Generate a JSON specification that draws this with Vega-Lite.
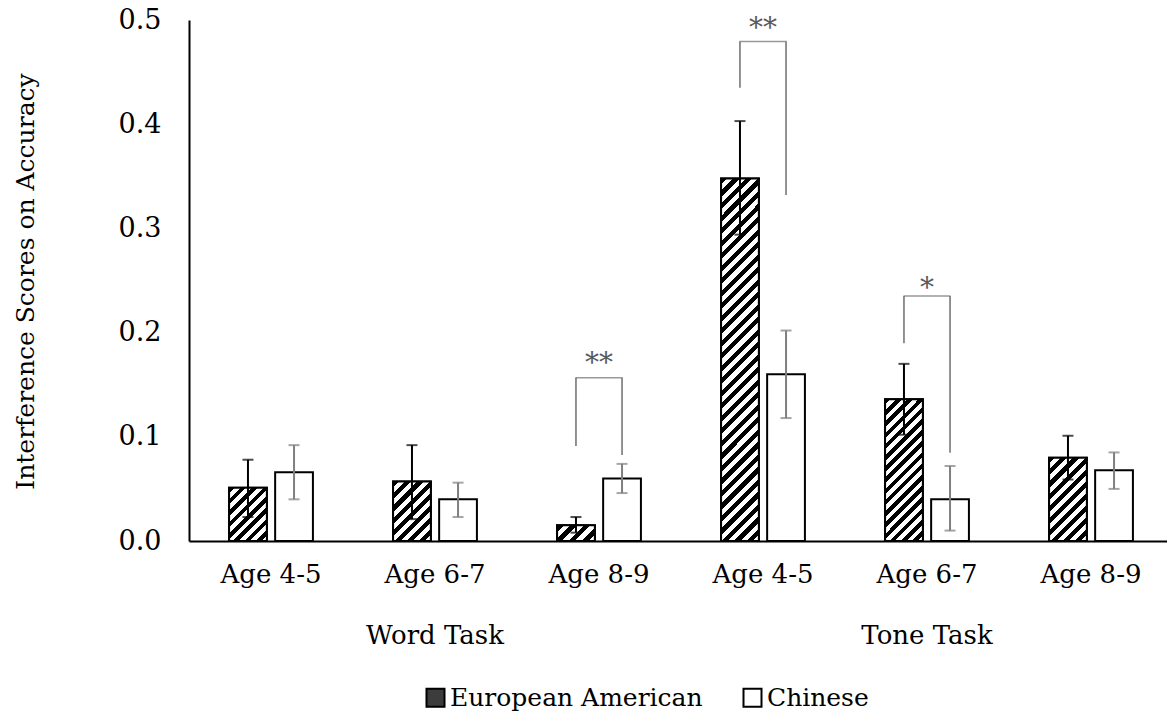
{
"$schema": "https://vega.github.io/schema/vega-lite/v6.json",
"width": 978, "height": 521,
"autosize": {"type": "none"},
"padding": {"left": 189, "top": 20, "right": 0, "bottom": 173},
"background": "white",
"config": {"view": {"stroke": null}, "font": "DejaVu Serif"},
"datasets": {
 "bars": [
  {"group":"Word Task|Age 4-5","country":"European American","value":0.051,"lo":0.023,"hi":0.078},
  {"group":"Word Task|Age 4-5","country":"Chinese","value":0.066,"lo":0.040,"hi":0.092},
  {"group":"Word Task|Age 6-7","country":"European American","value":0.057,"lo":0.021,"hi":0.092},
  {"group":"Word Task|Age 6-7","country":"Chinese","value":0.040,"lo":0.023,"hi":0.056},
  {"group":"Word Task|Age 8-9","country":"European American","value":0.015,"lo":0.008,"hi":0.023},
  {"group":"Word Task|Age 8-9","country":"Chinese","value":0.060,"lo":0.046,"hi":0.074},
  {"group":"Tone Task|Age 4-5","country":"European American","value":0.348,"lo":0.294,"hi":0.403},
  {"group":"Tone Task|Age 4-5","country":"Chinese","value":0.160,"lo":0.118,"hi":0.202},
  {"group":"Tone Task|Age 6-7","country":"European American","value":0.136,"lo":0.102,"hi":0.170},
  {"group":"Tone Task|Age 6-7","country":"Chinese","value":0.040,"lo":0.010,"hi":0.072},
  {"group":"Tone Task|Age 8-9","country":"European American","value":0.080,"lo":0.059,"hi":0.101},
  {"group":"Tone Task|Age 8-9","country":"Chinese","value":0.068,"lo":0.050,"hi":0.085}
 ],
 "legs": [
  {"group":"Word Task|Age 8-9","country":"European American","y1":0.0912,"y2":0.1567},
  {"group":"Word Task|Age 8-9","country":"Chinese","y1":0.0825,"y2":0.1567},
  {"group":"Tone Task|Age 4-5","country":"European American","y1":0.4349,"y2":0.4794},
  {"group":"Tone Task|Age 4-5","country":"Chinese","y1":0.332,"y2":0.4794},
  {"group":"Tone Task|Age 6-7","country":"European American","y1":0.1897,"y2":0.2351},
  {"group":"Tone Task|Age 6-7","country":"Chinese","y1":0.0847,"y2":0.2351}
 ],
 "sig": [
  {"group":"Word Task|Age 8-9","top":0.1567,"label":"**","ly":0.1625},
  {"group":"Tone Task|Age 4-5","top":0.4794,"label":"**","ly":0.4841},
  {"group":"Tone Task|Age 6-7","top":0.2351,"label":"*","ly":0.2337}
 ],
 "dividers": [
  {"group":"Word Task|Age 4-5"},
  {"group":"Tone Task|Age 4-5"}
 ]
},
"data": {"name": "bars"},
"encoding": {
 "x": {"field":"group","type":"nominal",
   "scale":{"domain":["Word Task|Age 4-5","Word Task|Age 6-7","Word Task|Age 8-9","Tone Task|Age 4-5","Tone Task|Age 6-7","Tone Task|Age 8-9"],"range":[0,984],"paddingInner":0,"paddingOuter":0},
   "axis":{"title":null,"labelExpr":"indexof(datum.label, '6-7') >= 0 ? [split(datum.label, '|')[1], split(datum.label, '|')[0]] : split(datum.label, '|')[1]","ticks":false,"tickSize":0,"labelPadding":20,"labelFont":"DejaVu Serif","labelFontSize":26,"labelColor":"black","labelLineHeight":61,"labelAngle":0,"labelBaseline":"top","labelOverlap":false,"labelLimit":400,"domainColor":"black","domainWidth":2,"grid":false}},
 "y": {"field":"value","type":"quantitative",
   "scale":{"domain":[0,0.5],"nice":false},
   "axis":{"title":"Interference Scores on Accuracy","values":[0,0.1,0.2,0.3,0.4,0.5],"format":".1f","ticks":false,"tickSize":0,"labelPadding":28,"labelFont":"DejaVu Serif","labelFontSize":27,"labelColor":"black","grid":false,"domainColor":"black","domainWidth":2,"titleFont":"DejaVu Serif","titleFontSize":25,"titleFontWeight":"normal","titleColor":"black","titleX":-156,"titleY":261,"titleBaseline":"alphabetic","titleAngle":-90,"titleAlign":"center"}}
},
"layer": [
 {"mark":{"type":"bar","stroke":"black","strokeWidth":2},
  "encoding":{
   "xOffset":{"field":"country","type":"nominal","scale":{"domain":["European American","Chinese"],"paddingInner":0.18,"paddingOuter":0.87}},
   "fill":{"field":"country","type":"nominal","scale":{"domain":["European American","Chinese"],"range":["#3c3c3c","white"]},
     "legend":{"title":null,"orient":"none","legendX":234,"legendY":665,"direction":"horizontal","symbolType":"square","symbolSize":324,"symbolStrokeColor":"black","symbolStrokeWidth":2,"symbolOpacity":1,"labelFont":"DejaVu Serif","labelFontSize":25,"labelColor":"black","labelOffset":2,"columnPadding":36,"labelLimit":400}}
  }},
 {"transform":[{"filter":"datum.group === 'Word Task|Age 4-5' && datum.country === 'European American'"}],
  "mark":{"type":"bar","stroke":"black","strokeWidth":2,"fill":{"gradient":"linear","x1":0,"y1":0,"x2":0.8088,"y2":1.1361,"stops":[
   {"offset":0,"color":"#000"},
   {"offset":0.0625,"color":"#000"},{"offset":0.0625,"color":"#fff"},{"offset":0.125,"color":"#fff"},{"offset":0.125,"color":"#000"},
   {"offset":0.1875,"color":"#000"},{"offset":0.1875,"color":"#fff"},{"offset":0.25,"color":"#fff"},{"offset":0.25,"color":"#000"},
   {"offset":0.3125,"color":"#000"},{"offset":0.3125,"color":"#fff"},{"offset":0.375,"color":"#fff"},{"offset":0.375,"color":"#000"},
   {"offset":0.4375,"color":"#000"},{"offset":0.4375,"color":"#fff"},{"offset":0.5,"color":"#fff"},{"offset":0.5,"color":"#000"},
   {"offset":0.5625,"color":"#000"},{"offset":0.5625,"color":"#fff"},{"offset":0.625,"color":"#fff"},{"offset":0.625,"color":"#000"},
   {"offset":0.6875,"color":"#000"},{"offset":0.6875,"color":"#fff"},{"offset":0.75,"color":"#fff"},{"offset":0.75,"color":"#000"},
   {"offset":0.8125,"color":"#000"},{"offset":0.8125,"color":"#fff"},{"offset":0.875,"color":"#fff"},{"offset":0.875,"color":"#000"},
   {"offset":0.9375,"color":"#000"},{"offset":0.9375,"color":"#fff"},{"offset":1,"color":"#fff"}]}},
  "encoding":{"xOffset":{"field":"country","type":"nominal","scale":{"domain":["European American","Chinese"],"paddingInner":0.18,"paddingOuter":0.87}}}},
 {"transform":[{"filter":"datum.group === 'Word Task|Age 6-7' && datum.country === 'European American'"}],
  "mark":{"type":"bar","stroke":"black","strokeWidth":2,"fill":{"gradient":"linear","x1":0,"y1":0,"x2":0.7412,"y2":1.1647,"stops":[
   {"offset":0,"color":"#000"},
   {"offset":0.0625,"color":"#000"},{"offset":0.0625,"color":"#fff"},{"offset":0.125,"color":"#fff"},{"offset":0.125,"color":"#000"},
   {"offset":0.1875,"color":"#000"},{"offset":0.1875,"color":"#fff"},{"offset":0.25,"color":"#fff"},{"offset":0.25,"color":"#000"},
   {"offset":0.3125,"color":"#000"},{"offset":0.3125,"color":"#fff"},{"offset":0.375,"color":"#fff"},{"offset":0.375,"color":"#000"},
   {"offset":0.4375,"color":"#000"},{"offset":0.4375,"color":"#fff"},{"offset":0.5,"color":"#fff"},{"offset":0.5,"color":"#000"},
   {"offset":0.5625,"color":"#000"},{"offset":0.5625,"color":"#fff"},{"offset":0.625,"color":"#fff"},{"offset":0.625,"color":"#000"},
   {"offset":0.6875,"color":"#000"},{"offset":0.6875,"color":"#fff"},{"offset":0.75,"color":"#fff"},{"offset":0.75,"color":"#000"},
   {"offset":0.8125,"color":"#000"},{"offset":0.8125,"color":"#fff"},{"offset":0.875,"color":"#fff"},{"offset":0.875,"color":"#000"},
   {"offset":0.9375,"color":"#000"},{"offset":0.9375,"color":"#fff"},{"offset":1,"color":"#fff"}]}},
  "encoding":{"xOffset":{"field":"country","type":"nominal","scale":{"domain":["European American","Chinese"],"paddingInner":0.18,"paddingOuter":0.87}}}},
 {"transform":[{"filter":"datum.group === 'Word Task|Age 8-9' && datum.country === 'European American'"}],
  "mark":{"type":"bar","stroke":"black","strokeWidth":2,"fill":{"gradient":"linear","x1":0,"y1":0,"x2":1.2071,"y2":0.4982,"stops":[
   {"offset":0,"color":"#000"},
   {"offset":0.125,"color":"#000"},{"offset":0.125,"color":"#fff"},{"offset":0.25,"color":"#fff"},{"offset":0.25,"color":"#000"},
   {"offset":0.375,"color":"#000"},{"offset":0.375,"color":"#fff"},{"offset":0.5,"color":"#fff"},{"offset":0.5,"color":"#000"},
   {"offset":0.625,"color":"#000"},{"offset":0.625,"color":"#fff"},{"offset":0.75,"color":"#fff"},{"offset":0.75,"color":"#000"},
   {"offset":0.875,"color":"#000"},{"offset":0.875,"color":"#fff"},{"offset":1,"color":"#fff"}]}},
  "encoding":{"xOffset":{"field":"country","type":"nominal","scale":{"domain":["European American","Chinese"],"paddingInner":0.18,"paddingOuter":0.87}}}},
 {"transform":[{"filter":"datum.group === 'Tone Task|Age 4-5' && datum.country === 'European American'"}],
  "mark":{"type":"bar","stroke":"black","strokeWidth":2,"fill":{"gradient":"linear","x1":0,"y1":0,"x2":0.1139,"y2":1.0924,"stops":[
   {"offset":0,"color":"#000"},
   {"offset":0.015625,"color":"#000"},{"offset":0.015625,"color":"#fff"},{"offset":0.03125,"color":"#fff"},{"offset":0.03125,"color":"#000"},
   {"offset":0.046875,"color":"#000"},{"offset":0.046875,"color":"#fff"},{"offset":0.0625,"color":"#fff"},{"offset":0.0625,"color":"#000"},
   {"offset":0.078125,"color":"#000"},{"offset":0.078125,"color":"#fff"},{"offset":0.09375,"color":"#fff"},{"offset":0.09375,"color":"#000"},
   {"offset":0.109375,"color":"#000"},{"offset":0.109375,"color":"#fff"},{"offset":0.125,"color":"#fff"},{"offset":0.125,"color":"#000"},
   {"offset":0.140625,"color":"#000"},{"offset":0.140625,"color":"#fff"},{"offset":0.15625,"color":"#fff"},{"offset":0.15625,"color":"#000"},
   {"offset":0.171875,"color":"#000"},{"offset":0.171875,"color":"#fff"},{"offset":0.1875,"color":"#fff"},{"offset":0.1875,"color":"#000"},
   {"offset":0.203125,"color":"#000"},{"offset":0.203125,"color":"#fff"},{"offset":0.21875,"color":"#fff"},{"offset":0.21875,"color":"#000"},
   {"offset":0.234375,"color":"#000"},{"offset":0.234375,"color":"#fff"},{"offset":0.25,"color":"#fff"},{"offset":0.25,"color":"#000"},
   {"offset":0.265625,"color":"#000"},{"offset":0.265625,"color":"#fff"},{"offset":0.28125,"color":"#fff"},{"offset":0.28125,"color":"#000"},
   {"offset":0.296875,"color":"#000"},{"offset":0.296875,"color":"#fff"},{"offset":0.3125,"color":"#fff"},{"offset":0.3125,"color":"#000"},
   {"offset":0.328125,"color":"#000"},{"offset":0.328125,"color":"#fff"},{"offset":0.34375,"color":"#fff"},{"offset":0.34375,"color":"#000"},
   {"offset":0.359375,"color":"#000"},{"offset":0.359375,"color":"#fff"},{"offset":0.375,"color":"#fff"},{"offset":0.375,"color":"#000"},
   {"offset":0.390625,"color":"#000"},{"offset":0.390625,"color":"#fff"},{"offset":0.40625,"color":"#fff"},{"offset":0.40625,"color":"#000"},
   {"offset":0.421875,"color":"#000"},{"offset":0.421875,"color":"#fff"},{"offset":0.4375,"color":"#fff"},{"offset":0.4375,"color":"#000"},
   {"offset":0.453125,"color":"#000"},{"offset":0.453125,"color":"#fff"},{"offset":0.46875,"color":"#fff"},{"offset":0.46875,"color":"#000"},
   {"offset":0.484375,"color":"#000"},{"offset":0.484375,"color":"#fff"},{"offset":0.5,"color":"#fff"},{"offset":0.5,"color":"#000"},
   {"offset":0.515625,"color":"#000"},{"offset":0.515625,"color":"#fff"},{"offset":0.53125,"color":"#fff"},{"offset":0.53125,"color":"#000"},
   {"offset":0.546875,"color":"#000"},{"offset":0.546875,"color":"#fff"},{"offset":0.5625,"color":"#fff"},{"offset":0.5625,"color":"#000"},
   {"offset":0.578125,"color":"#000"},{"offset":0.578125,"color":"#fff"},{"offset":0.59375,"color":"#fff"},{"offset":0.59375,"color":"#000"},
   {"offset":0.609375,"color":"#000"},{"offset":0.609375,"color":"#fff"},{"offset":0.625,"color":"#fff"},{"offset":0.625,"color":"#000"},
   {"offset":0.640625,"color":"#000"},{"offset":0.640625,"color":"#fff"},{"offset":0.65625,"color":"#fff"},{"offset":0.65625,"color":"#000"},
   {"offset":0.671875,"color":"#000"},{"offset":0.671875,"color":"#fff"},{"offset":0.6875,"color":"#fff"},{"offset":0.6875,"color":"#000"},
   {"offset":0.703125,"color":"#000"},{"offset":0.703125,"color":"#fff"},{"offset":0.71875,"color":"#fff"},{"offset":0.71875,"color":"#000"},
   {"offset":0.734375,"color":"#000"},{"offset":0.734375,"color":"#fff"},{"offset":0.75,"color":"#fff"},{"offset":0.75,"color":"#000"},
   {"offset":0.765625,"color":"#000"},{"offset":0.765625,"color":"#fff"},{"offset":0.78125,"color":"#fff"},{"offset":0.78125,"color":"#000"},
   {"offset":0.796875,"color":"#000"},{"offset":0.796875,"color":"#fff"},{"offset":0.8125,"color":"#fff"},{"offset":0.8125,"color":"#000"},
   {"offset":0.828125,"color":"#000"},{"offset":0.828125,"color":"#fff"},{"offset":0.84375,"color":"#fff"},{"offset":0.84375,"color":"#000"},
   {"offset":0.859375,"color":"#000"},{"offset":0.859375,"color":"#fff"},{"offset":0.875,"color":"#fff"},{"offset":0.875,"color":"#000"},
   {"offset":0.890625,"color":"#000"},{"offset":0.890625,"color":"#fff"},{"offset":0.90625,"color":"#fff"},{"offset":0.90625,"color":"#000"},
   {"offset":0.921875,"color":"#000"},{"offset":0.921875,"color":"#fff"},{"offset":0.9375,"color":"#fff"},{"offset":0.9375,"color":"#000"},
   {"offset":0.953125,"color":"#000"},{"offset":0.953125,"color":"#fff"},{"offset":0.96875,"color":"#fff"},{"offset":0.96875,"color":"#000"},
   {"offset":0.984375,"color":"#000"},{"offset":0.984375,"color":"#fff"},{"offset":1,"color":"#fff"}]}},
  "encoding":{"xOffset":{"field":"country","type":"nominal","scale":{"domain":["European American","Chinese"],"paddingInner":0.18,"paddingOuter":0.87}}}},
 {"transform":[{"filter":"datum.group === 'Tone Task|Age 6-7' && datum.country === 'European American'"}],
  "mark":{"type":"bar","stroke":"black","strokeWidth":2,"fill":{"gradient":"linear","x1":0,"y1":0,"x2":0.3155,"y2":1.1826,"stops":[
   {"offset":0,"color":"#000"},
   {"offset":0.03125,"color":"#000"},{"offset":0.03125,"color":"#fff"},{"offset":0.0625,"color":"#fff"},{"offset":0.0625,"color":"#000"},
   {"offset":0.09375,"color":"#000"},{"offset":0.09375,"color":"#fff"},{"offset":0.125,"color":"#fff"},{"offset":0.125,"color":"#000"},
   {"offset":0.15625,"color":"#000"},{"offset":0.15625,"color":"#fff"},{"offset":0.1875,"color":"#fff"},{"offset":0.1875,"color":"#000"},
   {"offset":0.21875,"color":"#000"},{"offset":0.21875,"color":"#fff"},{"offset":0.25,"color":"#fff"},{"offset":0.25,"color":"#000"},
   {"offset":0.28125,"color":"#000"},{"offset":0.28125,"color":"#fff"},{"offset":0.3125,"color":"#fff"},{"offset":0.3125,"color":"#000"},
   {"offset":0.34375,"color":"#000"},{"offset":0.34375,"color":"#fff"},{"offset":0.375,"color":"#fff"},{"offset":0.375,"color":"#000"},
   {"offset":0.40625,"color":"#000"},{"offset":0.40625,"color":"#fff"},{"offset":0.4375,"color":"#fff"},{"offset":0.4375,"color":"#000"},
   {"offset":0.46875,"color":"#000"},{"offset":0.46875,"color":"#fff"},{"offset":0.5,"color":"#fff"},{"offset":0.5,"color":"#000"},
   {"offset":0.53125,"color":"#000"},{"offset":0.53125,"color":"#fff"},{"offset":0.5625,"color":"#fff"},{"offset":0.5625,"color":"#000"},
   {"offset":0.59375,"color":"#000"},{"offset":0.59375,"color":"#fff"},{"offset":0.625,"color":"#fff"},{"offset":0.625,"color":"#000"},
   {"offset":0.65625,"color":"#000"},{"offset":0.65625,"color":"#fff"},{"offset":0.6875,"color":"#fff"},{"offset":0.6875,"color":"#000"},
   {"offset":0.71875,"color":"#000"},{"offset":0.71875,"color":"#fff"},{"offset":0.75,"color":"#fff"},{"offset":0.75,"color":"#000"},
   {"offset":0.78125,"color":"#000"},{"offset":0.78125,"color":"#fff"},{"offset":0.8125,"color":"#fff"},{"offset":0.8125,"color":"#000"},
   {"offset":0.84375,"color":"#000"},{"offset":0.84375,"color":"#fff"},{"offset":0.875,"color":"#fff"},{"offset":0.875,"color":"#000"},
   {"offset":0.90625,"color":"#000"},{"offset":0.90625,"color":"#fff"},{"offset":0.9375,"color":"#fff"},{"offset":0.9375,"color":"#000"},
   {"offset":0.96875,"color":"#000"},{"offset":0.96875,"color":"#fff"},{"offset":1,"color":"#fff"}]}},
  "encoding":{"xOffset":{"field":"country","type":"nominal","scale":{"domain":["European American","Chinese"],"paddingInner":0.18,"paddingOuter":0.87}}}},
 {"transform":[{"filter":"datum.group === 'Tone Task|Age 8-9' && datum.country === 'European American'"}],
  "mark":{"type":"bar","stroke":"black","strokeWidth":2,"fill":{"gradient":"linear","x1":0,"y1":0,"x2":0.5464,"y2":1.2056,"stops":[
   {"offset":0,"color":"#000"},
   {"offset":0.05,"color":"#000"},{"offset":0.05,"color":"#fff"},{"offset":0.1,"color":"#fff"},{"offset":0.1,"color":"#000"},
   {"offset":0.15,"color":"#000"},{"offset":0.15,"color":"#fff"},{"offset":0.2,"color":"#fff"},{"offset":0.2,"color":"#000"},
   {"offset":0.25,"color":"#000"},{"offset":0.25,"color":"#fff"},{"offset":0.3,"color":"#fff"},{"offset":0.3,"color":"#000"},
   {"offset":0.35,"color":"#000"},{"offset":0.35,"color":"#fff"},{"offset":0.4,"color":"#fff"},{"offset":0.4,"color":"#000"},
   {"offset":0.45,"color":"#000"},{"offset":0.45,"color":"#fff"},{"offset":0.5,"color":"#fff"},{"offset":0.5,"color":"#000"},
   {"offset":0.55,"color":"#000"},{"offset":0.55,"color":"#fff"},{"offset":0.6,"color":"#fff"},{"offset":0.6,"color":"#000"},
   {"offset":0.65,"color":"#000"},{"offset":0.65,"color":"#fff"},{"offset":0.7,"color":"#fff"},{"offset":0.7,"color":"#000"},
   {"offset":0.75,"color":"#000"},{"offset":0.75,"color":"#fff"},{"offset":0.8,"color":"#fff"},{"offset":0.8,"color":"#000"},
   {"offset":0.85,"color":"#000"},{"offset":0.85,"color":"#fff"},{"offset":0.9,"color":"#fff"},{"offset":0.9,"color":"#000"},
   {"offset":0.95,"color":"#000"},{"offset":0.95,"color":"#fff"},{"offset":1,"color":"#fff"}]}},
  "encoding":{"xOffset":{"field":"country","type":"nominal","scale":{"domain":["European American","Chinese"],"paddingInner":0.18,"paddingOuter":0.87}}}},
 {"mark":{"type":"rule","strokeWidth":2},
  "encoding":{
   "xOffset":{"field":"country","type":"nominal","scale":{"domain":["European American","Chinese"],"paddingInner":0.18,"paddingOuter":0.87}},
   "y":{"field":"lo","type":"quantitative"},"y2":{"field":"hi"},
   "color":{"condition":{"test":"datum.country === 'Chinese'","value":"#7f7f7f"},"value":"black"}}},
 {"mark":{"type":"tick","size":11,"thickness":2},
  "encoding":{
   "xOffset":{"field":"country","type":"nominal","scale":{"domain":["European American","Chinese"],"paddingInner":0.18,"paddingOuter":0.87}},
   "y":{"field":"hi","type":"quantitative"},
   "color":{"condition":{"test":"datum.country === 'Chinese'","value":"#7f7f7f"},"value":"black"}}},
 {"mark":{"type":"tick","size":11,"thickness":2},
  "encoding":{
   "xOffset":{"field":"country","type":"nominal","scale":{"domain":["European American","Chinese"],"paddingInner":0.18,"paddingOuter":0.87}},
   "y":{"field":"lo","type":"quantitative"},
   "color":{"condition":{"test":"datum.country === 'Chinese'","value":"#7f7f7f"},"value":"black"}}},
 {"data":{"name":"legs"},
  "mark":{"type":"rule","strokeWidth":1.5,"color":"#6e6e6e"},
  "encoding":{
   "xOffset":{"field":"country","type":"nominal","scale":{"domain":["European American","Chinese"],"paddingInner":0.18,"paddingOuter":0.87}},
   "y":{"field":"y1","type":"quantitative"},"y2":{"field":"y2"}}},
 {"data":{"name":"sig"},
  "mark":{"type":"tick","size":47,"thickness":1.5,"color":"#6e6e6e"},
  "encoding":{"y":{"field":"top","type":"quantitative"}}},
 {"data":{"name":"sig"},
  "mark":{"type":"text","font":"DejaVu Serif","fontSize":28,"color":"#595959","align":"center","baseline":"alphabetic"},
  "encoding":{"y":{"field":"ly","type":"quantitative"},"text":{"field":"label"}}},
 {"data":{"name":"dividers"},
  "mark":{"type":"rule","strokeWidth":2,"color":"black"},
  "encoding":{
   "x":{"field":"group","type":"nominal","bandPosition":0,
     "scale":{"domain":["Word Task|Age 4-5","Word Task|Age 6-7","Word Task|Age 8-9","Tone Task|Age 4-5","Tone Task|Age 6-7","Tone Task|Age 8-9"],"range":[0,984],"paddingInner":0,"paddingOuter":0}},
   "y":{"datum":0},"y2":{"datum":-0.1094}}}
]
}
